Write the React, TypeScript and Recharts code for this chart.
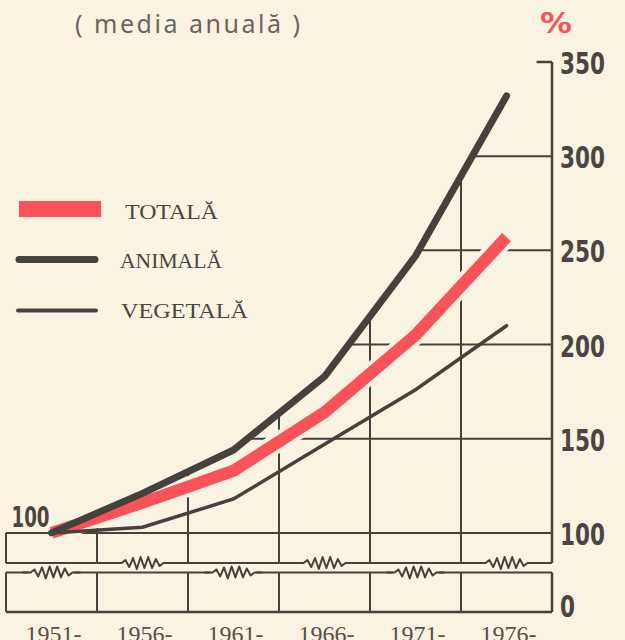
import React from 'react';
import { ComposedChart, Line, Area, XAxis, YAxis, ReferenceLine, ReferenceDot } from 'recharts';

// ---- data ----
const periods = ['1951-', '1956-', '1961-', '1966-', '1971-', '1976-'];
const totala = [100, 116, 133, 164, 205, 257];
const animala = [100, 121, 144, 183, 247, 332];
const vegetala = [100, 103, 118, 147, 176, 210];
const yTicks = [58, 100, 150, 200, 250, 300, 350];
const yTickLabels = ['0', '100', '150', '200', '250', '300', '350'];
const gridValues = [100, 150, 200, 250, 300];
const boundaries = [0.5, 1.5, 2.5, 3.5, 4.5];
const upperBreakIdx = [1, 3, 5];
const lowerBreakIdx = [0, 2, 4];
const Y_MIN = 58;
const Y_MAX = 350;
const BREAK_UPPER = 84;
const BREAK_LOWER = 79;
const X_MIN = -0.5;
const X_MAX = 5.5;

const BG = '#FBF3E2';
const INK = '#45413c';
const RED = '#FA5259';
const TEXT = '#4a4540';

const data = periods.map((p, i) => ({
  i,
  period: p,
  totala: totala[i],
  animala: animala[i],
  vegetala: vegetala[i],
  cover: [animala[i], Y_MAX],
  brkU: BREAK_UPPER,
  brkL: BREAK_LOWER,
}));

const zig = [0, -3, 4, -5, 6, -6, 5, -6, 5, -4, 3, 0];

const makeSquiggle = (which: 'U' | 'L') => (props: any) => {
  const { cx, cy, index } = props;
  const list = which === 'U' ? upperBreakIdx : lowerBreakIdx;
  if (cx == null || cy == null || !list.includes(index)) return <g key={`sq-${which}-${index}`} />;
  const step = 3.8;
  const w = step * (zig.length - 1);
  const x0 = cx - w / 2;
  const pts = zig.map((a, k) => `L${x0 + k * step},${cy + a}`).join(' ');
  return (
    <g key={`sq-${which}-${index}`}>
      <rect x={x0 - 2} y={cy - 3} width={w + 4} height={6} fill={BG} />
      <path d={`M${x0 - 8},${cy} L${x0},${cy} ${pts} L${x0 + w + 8},${cy}`} stroke={INK} strokeWidth={2} fill="none" strokeLinejoin="round" />
    </g>
  );
};

const RightTick = (props: any) => {
  const { x, y, payload } = props;
  const idx = yTicks.indexOf(payload.value);
  const label = yTickLabels[idx] ?? String(payload.value);
  const isZero = payload.value === Y_MIN;
  return (
    <text
      x={x + 8}
      y={y + (isZero ? -6 : 1) + 11}
      fontFamily="'DejaVu Sans Condensed', 'DejaVu Sans', sans-serif"
      fontWeight="bold"
      fontSize={30}
      fill={TEXT}
      textLength={label.length * 15}
      lengthAdjust="spacingAndGlyphs"
    >
      {label}
    </text>
  );
};

const BottomTick = (props: any) => {
  const { x, y, payload } = props;
  const label = periods[payload.value] ?? '';
  return (
    <text x={x + 2} y={y + 30} textAnchor="middle" fontFamily="'Liberation Serif', serif" fontSize={24} fill="#55504a">
      {label}
    </text>
  );
};

const LeftLabel = (props: any) => {
  const vb = props.viewBox || {};
  const cx = (vb.x ?? 0) + (vb.width ?? 0) / 2;
  const cy = (vb.y ?? 0) + (vb.height ?? 0) / 2;
  return (
    <text
      x={cx - 40}
      y={cy - 6}
      fontFamily="'DejaVu Sans Condensed', 'DejaVu Sans', sans-serif"
      fontWeight="bold"
      fontSize={28}
      fill={TEXT}
      textLength={38}
      lengthAdjust="spacingAndGlyphs"
    >
      100
    </text>
  );
};

const gridStroke = { stroke: INK, strokeWidth: 2 };

export default function App() {
  return (
    <div style={{ position: 'absolute', left: 0, top: 0, width: 625, height: 640, background: BG, overflow: 'hidden' }}>
      <ComposedChart width={625} height={640} data={data} margin={{ top: 62, right: 0, bottom: 0, left: 6 }}>
        <XAxis
          type="number"
          dataKey="i"
          domain={[X_MIN, X_MAX]}
          ticks={[0, 1, 2, 3, 4, 5]}
          axisLine={false}
          tickLine={false}
          tickSize={0}
          tickMargin={0}
          height={28}
          tick={<BottomTick />}
          interval={0}
        />
        <YAxis
          orientation="right"
          type="number"
          domain={[Y_MIN, Y_MAX]}
          ticks={yTicks}
          axisLine={false}
          tickLine={false}
          tickSize={0}
          tickMargin={0}
          width={73}
          tick={<RightTick />}
          interval={0}
        />
        {/* horizontal grid */}
        {gridValues.map((v) => (
          <ReferenceLine
            key={`h${v}`}
            segment={[{ x: v === 100 ? X_MIN : 0.06, y: v }, { x: X_MAX, y: v }]}
            {...gridStroke}
            zIndex={50}
          />
        ))}
        {/* broken-axis boxes */}
        <ReferenceLine y={BREAK_UPPER} {...gridStroke} zIndex={50} />
        <ReferenceLine y={BREAK_LOWER} {...gridStroke} zIndex={50} />
        <ReferenceLine y={Y_MIN} {...gridStroke} strokeWidth={2.5} zIndex={50} />
        {boundaries.map((b) => (
          <ReferenceLine key={`vu${b}`} segment={[{ x: b, y: BREAK_UPPER }, { x: b, y: Y_MAX }]} {...gridStroke} zIndex={50} />
        ))}
        {boundaries.map((b) => (
          <ReferenceLine key={`vl${b}`} segment={[{ x: b, y: Y_MIN }, { x: b, y: BREAK_LOWER }]} {...gridStroke} zIndex={50} />
        ))}
        <ReferenceLine segment={[{ x: X_MIN, y: BREAK_UPPER }, { x: X_MIN, y: 100 }]} {...gridStroke} zIndex={50} />
        <ReferenceLine segment={[{ x: X_MIN, y: Y_MIN }, { x: X_MIN, y: BREAK_LOWER }]} {...gridStroke} zIndex={50} />
        <ReferenceLine segment={[{ x: X_MAX, y: BREAK_UPPER }, { x: X_MAX, y: Y_MAX }]} {...gridStroke} strokeWidth={2.5} zIndex={50} />
        <ReferenceLine segment={[{ x: X_MAX, y: Y_MIN }, { x: X_MAX, y: BREAK_LOWER }]} {...gridStroke} strokeWidth={2.5} zIndex={50} />
        <ReferenceLine segment={[{ x: 5.33, y: Y_MAX }, { x: X_MAX, y: Y_MAX }]} {...gridStroke} strokeWidth={2.5} zIndex={50} />

        {/* cover grid above the animal curve */}
        <Area dataKey="cover" type="linear" stroke="none" fill={BG} fillOpacity={1} isAnimationActive={false} zIndex={60} />

        {/* break squiggles */}
        <Line dataKey="brkU" stroke="none" dot={makeSquiggle('U')} activeDot={false} isAnimationActive={false} zIndex={65} />
        <Line dataKey="brkL" stroke="none" dot={makeSquiggle('L')} activeDot={false} isAnimationActive={false} zIndex={65} />

        {/* series */}
        <Line dataKey="totala" type="linear" stroke={BG} strokeWidth={20} dot={false} activeDot={false} isAnimationActive={false} zIndex={70} />
        <Line dataKey="totala" type="linear" stroke={RED} strokeWidth={12} strokeLinecap="butt" dot={false} activeDot={false} isAnimationActive={false} zIndex={75} />
        <Line dataKey="vegetala" type="linear" stroke={INK} strokeWidth={3.5} strokeLinecap="round" dot={false} activeDot={false} isAnimationActive={false} zIndex={80} />
        <Line dataKey="animala" type="linear" stroke={INK} strokeWidth={7} strokeLinecap="round" strokeLinejoin="round" dot={false} activeDot={false} isAnimationActive={false} zIndex={85} />

        <ReferenceDot x={0} y={100} r={0} fill="none" stroke="none" label={<LeftLabel />} zIndex={90} />
      </ComposedChart>

      <svg width={625} height={640} style={{ position: 'absolute', left: 0, top: 0, pointerEvents: 'none' }}>
        <text x={75} y={33} fontFamily="'Noto Sans', sans-serif" fontSize={25} fill="#6b655f" textLength={225} lengthAdjust="spacing">
          ( media anuală )
        </text>
        <text x={540} y={33} fontFamily="'DejaVu Sans', sans-serif" fontWeight="bold" fontSize={28} fill={RED} textLength={32} lengthAdjust="spacingAndGlyphs">
          %
        </text>
        {/* legend */}
        <rect x={19} y={201} width={82} height={16} fill={RED} />
        <text x={125} y={219} fontFamily="'Liberation Serif', serif" fontSize={21} fill={TEXT} textLength={93} lengthAdjust="spacingAndGlyphs">TOTALĂ</text>
        <line x1={19} y1={259.5} x2={95} y2={259.5} stroke={INK} strokeWidth={7} strokeLinecap="round" />
        <text x={120} y={268} fontFamily="'Liberation Serif', serif" fontSize={21} fill={TEXT} textLength={102} lengthAdjust="spacingAndGlyphs">ANIMALĂ</text>
        <line x1={18} y1={310.5} x2={96} y2={310.5} stroke={INK} strokeWidth={4} strokeLinecap="round" />
        <text x={121} y={318} fontFamily="'Liberation Serif', serif" fontSize={21} fill={TEXT} textLength={127} lengthAdjust="spacingAndGlyphs">VEGETALĂ</text>
      </svg>
    </div>
  );
}
